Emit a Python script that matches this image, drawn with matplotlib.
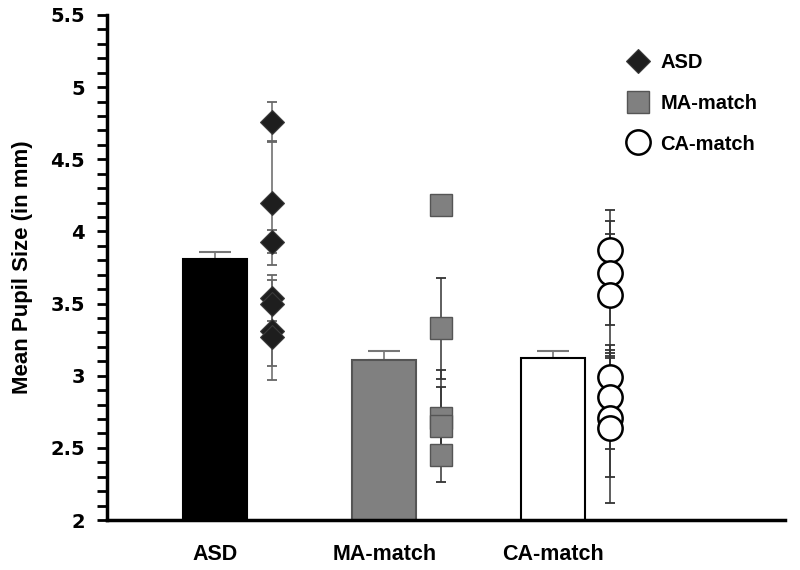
import matplotlib
matplotlib.use("Agg")
import matplotlib.pyplot as plt
from matplotlib.ticker import MultipleLocator
import numpy as np

# ---- data ----
groups = ["ASD", "MA-match", "CA-match"]
group_means = [3.81, 3.11, 3.12]
group_se = [0.05, 0.06, 0.05]

asd_vals = [4.76, 4.20, 3.93, 3.54, 3.50, 3.31, 3.27]
asd_err = [0.14, 0.43, 0.08, 0.16, 0.16, 0.24, 0.30]

ma_vals = [4.18, 3.33, 2.71, 2.65, 2.45]
ma_err = [0.07, 0.35, 0.33, 0.27, 0.19]

ca_vals = [3.87, 3.71, 3.56, 2.99, 2.85, 2.71, 2.64]
ca_err = [0.28, 0.36, 0.42, 0.19, 0.36, 0.41, 0.52]

yticks = [2, 2.5, 3, 3.5, 4, 4.5, 5, 5.5]
ytick_labels = ["2", "2.5", "3", "3.5", "4", "4.5", "5", "5.5"]

# ---- figure ----
fig = plt.figure(figsize=(8, 5.7), dpi=100)
ax = fig.add_axes([107/800, 50/570, (785-107)/800, (520-15)/570])

x = np.arange(len(groups))
bar_w = 0.38
off = 0.335

bar_face = ["black", "#808080", "white"]
bar_edge = ["black", "#555555", "black"]
ax.bar(x, group_means, width=bar_w, color=bar_face, edgecolor=bar_edge,
       linewidth=1.5, zorder=2)
ax.errorbar(x, group_means, yerr=[[0]*3, group_se], fmt="none",
            ecolor="#777777", elinewidth=1.2, capsize=11.5, capthick=1.5, zorder=1)

series = [
    (asd_vals, asd_err, dict(marker="D", markersize=12, markerfacecolor="#1e1e1e",
                             markeredgecolor="#3a3a3a", markeredgewidth=0.8), "#666666"),
    (ma_vals, ma_err, dict(marker="s", markersize=16, markerfacecolor="#808080",
                           markeredgecolor="#555555", markeredgewidth=1.0), "#333333"),
    (ca_vals, ca_err, dict(marker="o", markersize=17.5, markerfacecolor="white",
                           markeredgecolor="black", markeredgewidth=1.8), "#333333"),
]
labels = ["ASD", "MA-match", "CA-match"]
handles = []
for i, (vals, errs, mk, ec) in enumerate(series):
    xs = np.full(len(vals), x[i] + off)
    ax.errorbar(xs, vals, yerr=errs, fmt="none", ecolor=ec, elinewidth=1.1,
                capsize=3.5, capthick=1.3, zorder=3)
    h, = ax.plot(xs, vals, linestyle="none", zorder=4, label=labels[i], **mk)
    handles.append(h)

ax.set_xlim(-0.64, 3.37)
ax.set_ylim(2, 5.5)
ax.set_yticks(yticks)
ax.set_yticklabels(ytick_labels)
ax.yaxis.set_minor_locator(MultipleLocator(0.1))
ax.set_xticks(x)
ax.set_xticklabels(groups, fontfamily="Liberation Sans", fontweight="bold",
                   fontsize=15.5)
ax.tick_params(axis="x", length=0, pad=17)
ax.tick_params(axis="y", which="both", direction="out", length=7, width=2,
               labelsize=14, pad=9)
for lab in ax.get_yticklabels():
    lab.set_fontweight("bold")
    lab.set_fontfamily("DejaVu Sans")

for s in ["top", "right"]:
    ax.spines[s].set_visible(False)
ax.spines["left"].set_linewidth(2.5)
ax.spines["bottom"].set_linewidth(2.5)

ax.set_ylabel("Mean Pupil Size (in mm)", fontfamily="Liberation Sans",
              fontweight="bold", fontsize=16, labelpad=12)

leg = ax.legend(handles=handles, loc="upper left",
                bbox_to_anchor=(628/800, 1 - 53/570), bbox_transform=fig.transFigure,
                frameon=False, handlelength=1.0, handletextpad=0.6,
                labelspacing=1.08, borderpad=0, borderaxespad=0,
                prop=dict(family="Liberation Sans", weight="bold", size=14.5))

fig.savefig("out.png", dpi=100)
